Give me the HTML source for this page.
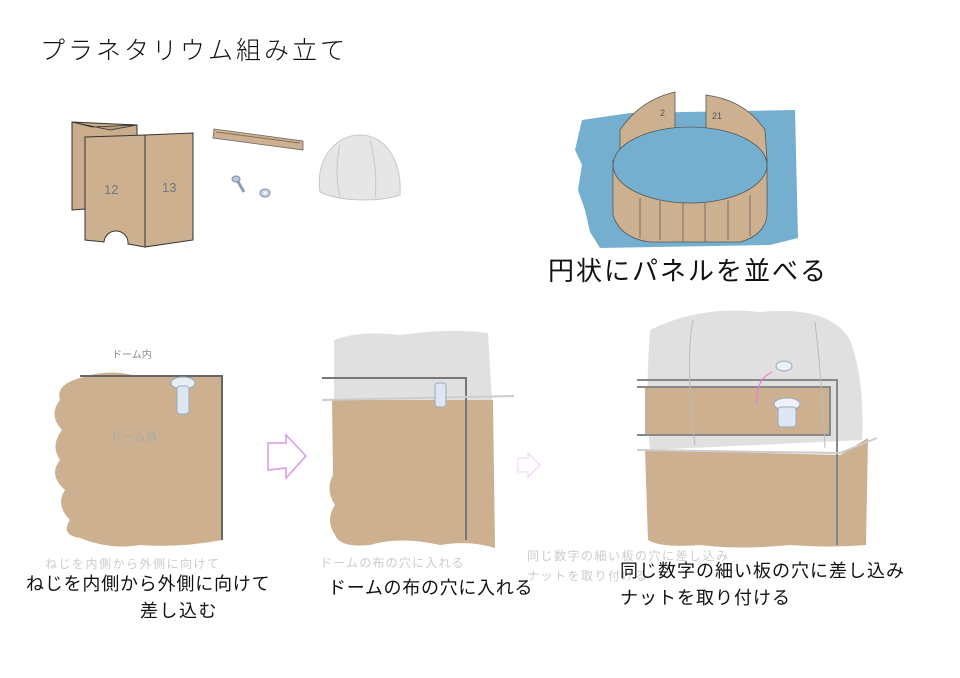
<!DOCTYPE html>
<html><head><meta charset="utf-8">
<style>
html,body{margin:0;padding:0;background:#fff;}
svg{display:block;}
text{font-family:"Liberation Sans","Noto Sans CJK JP",sans-serif;}
</style></head>
<body>
<svg width="960" height="678" viewBox="0 0 960 678" xmlns="http://www.w3.org/2000/svg">
<rect width="960" height="678" fill="#fff"/>
<text x="40" y="59" font-size="25" letter-spacing="3" fill="#111" font-weight="300">プラネタリウム組み立て</text>

<!-- folded panels -->
<polygon points="72,122 137,125 137,205 72,210" fill="#c9ad8c" stroke="#333" stroke-width="1"/>
<polygon points="72,122 92,127 137,125 110,130" fill="#b89a78" stroke="#333" stroke-width="0.8"/>
<path d="M85,137 L145,135 L145,247 L128,244 A12,12 0 0 0 104,242 L85,240 Z" fill="#ccb090" stroke="#333" stroke-width="1"/>
<polygon points="145,135 193,133 193,240 145,247" fill="#ccb090" stroke="#333" stroke-width="1"/>
<text x="104" y="194" font-size="13" fill="#777">12</text>
<text x="162" y="192" font-size="13" fill="#777">13</text>
<!-- stick -->
<polygon points="214,129 303,141 303,150 213,138" fill="#ccb090" stroke="#666" stroke-width="0.8"/>
<line x1="216" y1="132" x2="300" y2="143" stroke="#8a7050" stroke-width="1"/>
<!-- bolt & nut -->
<line x1="237" y1="180" x2="244" y2="192" stroke="#8aa0b8" stroke-width="3"/>
<ellipse cx="236" cy="179" rx="4" ry="3" fill="#b7c8dc" stroke="#7a8ea6"/>
<ellipse cx="265" cy="193" rx="5" ry="4" fill="#c8d4e2" stroke="#7a8ea6"/>
<circle cx="265" cy="193" r="1.5" fill="#fff"/>
<!-- dome -->
<path d="M320,192 C315,160 335,135 360,135 C385,135 402,160 400,195 C380,202 340,202 320,192 Z" fill="#e6e6e6" stroke="#c8c8c8"/>
<path d="M340,145 C335,165 337,185 340,196 M370,140 C375,160 377,180 375,198" stroke="#c8c8c8" fill="none"/>

<!-- ring on blue -->
<path d="M582,120 L630,113 L795,110 L798,238 L770,245 L600,248 L590,232 L585,210 L578,190 L582,165 L575,150 Z" fill="#75afd0"/>
<path d="M613,160 L613,215 Q620,238 650,242 L740,242 Q765,235 767,215 L767,160 Z" fill="#ccb090" stroke="#555" stroke-width="0.8"/>
<path d="M620,130 Q640,100 675,92 L675,130 Q640,140 620,155 Z" fill="#ccb090" stroke="#555" stroke-width="0.8"/>
<path d="M706,95 Q745,100 765,130 L767,160 Q740,140 706,130 Z" fill="#ccb090" stroke="#555" stroke-width="0.8"/>
<ellipse cx="690" cy="165" rx="77" ry="38" fill="#75afd0" stroke="#555" stroke-width="0.8"/>
<g stroke="#555" stroke-width="0.7">
<line x1="640" y1="198" x2="640" y2="238"/><line x1="660" y1="201" x2="660" y2="240"/><line x1="683" y1="203" x2="683" y2="242"/><line x1="705" y1="203" x2="705" y2="242"/><line x1="728" y1="200" x2="728" y2="240"/><line x1="750" y1="195" x2="750" y2="236"/>
</g>
<text x="660" y="116" font-size="9" fill="#555">2</text>
<text x="712" y="119" font-size="9" fill="#555">21</text>
<text x="548" y="280" font-size="26" letter-spacing="2" fill="#111">円状にパネルを並べる</text>

<!-- panel 1 -->
<path d="M80,378 Q110,368 135,376 L222,376 L222,540 Q180,548 140,545 Q110,550 80,538 Q60,535 70,520 Q55,505 65,490 Q48,475 60,460 Q50,445 62,430 Q48,415 60,400 Q55,385 80,378 Z" fill="#ccb090"/>
<polyline points="80,376 222,376 222,540" fill="none" stroke="#666" stroke-width="2"/>
<ellipse cx="183" cy="383" rx="12" ry="6" fill="#e8eef6" stroke="#9ab"/>
<rect x="177" y="386" width="12" height="28" rx="3" fill="#dde6f2" stroke="#9ab"/>
<text x="112" y="358" font-size="10" fill="#888">ドーム内</text>
<text x="110" y="441" font-size="12" fill="#aaa">ドーム外</text>
<!-- arrow 1 -->
<polygon points="268,443 286,443 286,435 306,456 286,478 286,468 268,470" fill="none" stroke="#d89ae6" stroke-width="1.5"/>

<!-- panel 2 -->
<path d="M334,340 Q360,330 400,335 Q450,328 488,333 L492,400 L334,400 Z" fill="#e0e0e0"/>
<path d="M332,400 L493,400 L495,548 Q470,540 440,545 Q400,536 370,545 Q340,548 335,535 Q325,520 335,505 Q325,490 333,475 Z" fill="#ccb090"/>
<polyline points="322,378 466,378 466,540" fill="none" stroke="#777" stroke-width="2"/>
<line x1="322" y1="400" x2="514" y2="396" stroke="#ccc" stroke-width="2"/>
<rect x="435" y="383" width="11" height="24" rx="3" fill="#dde6f2" stroke="#9ab"/>
<!-- arrow 2 -->
<polygon points="518,458 528,458 528,453 540,465 528,477 528,472 518,472" fill="none" stroke="#f0d0f5" stroke-width="1"/>

<!-- panel 3 -->
<path d="M650,330 Q700,305 760,312 Q830,305 850,340 Q865,380 862,440 L650,450 Q645,400 650,330 Z" fill="#e0e0e0"/>
<path d="M645,450 L840,455 L868,438 L866,545 Q830,548 790,545 Q740,550 700,545 Q660,548 648,540 Z" fill="#ccb090"/>
<rect x="645" y="388" width="185" height="47" fill="#ccb090"/>
<polyline points="637,380 837,380 837,545" fill="none" stroke="#888" stroke-width="2"/>
<polyline points="637,387 830,387 830,435 637,435" fill="none" stroke="#888" stroke-width="2"/>
<line x1="637" y1="450" x2="840" y2="453" stroke="#ccc" stroke-width="2"/>
<line x1="840" y1="453" x2="877" y2="438" stroke="#ccc" stroke-width="2"/>
<path d="M693,320 Q685,360 695,445 M815,322 Q822,380 825,448" stroke="#bbb" fill="none"/>
<path d="M772,372 Q755,380 757,405" stroke="#e87ed8" fill="none" stroke-width="1.2"/>
<ellipse cx="784" cy="366" rx="8" ry="5" fill="#eef2f8" stroke="#9ab"/>
<ellipse cx="787" cy="404" rx="13" ry="6" fill="#eef2f8" stroke="#9ab"/>
<rect x="778" y="407" width="18" height="20" rx="3" fill="#dde6f2" stroke="#9ab"/>

<!-- captions -->
<text x="45" y="568" font-size="12" fill="#ccc" letter-spacing="1.5">ねじを内側から外側に向けて</text>
<text x="26" y="590" font-size="18" fill="#111" letter-spacing="0.8">ねじを内側から外側に向けて</text>
<text x="140" y="617" font-size="18" fill="#111" letter-spacing="1.5">差し込む</text>
<text x="320" y="567" font-size="12" fill="#ccc" letter-spacing="1.2">ドームの布の穴に入れる</text>
<text x="328" y="594" font-size="18" fill="#111" letter-spacing="0.7">ドームの布の穴に入れる</text>
<text x="527" y="560" font-size="12" fill="#ccc" letter-spacing="1.5">同じ数字の細い板の穴に差し込み</text>
<text x="527" y="580" font-size="12" fill="#ccc" letter-spacing="1.5">ナットを取り付ける</text>
<text x="620" y="577" font-size="18" fill="#111" letter-spacing="1">同じ数字の細い板の穴に差し込み</text>
<text x="620" y="604" font-size="18" fill="#111" letter-spacing="1">ナットを取り付ける</text>
</svg>
</body></html>
